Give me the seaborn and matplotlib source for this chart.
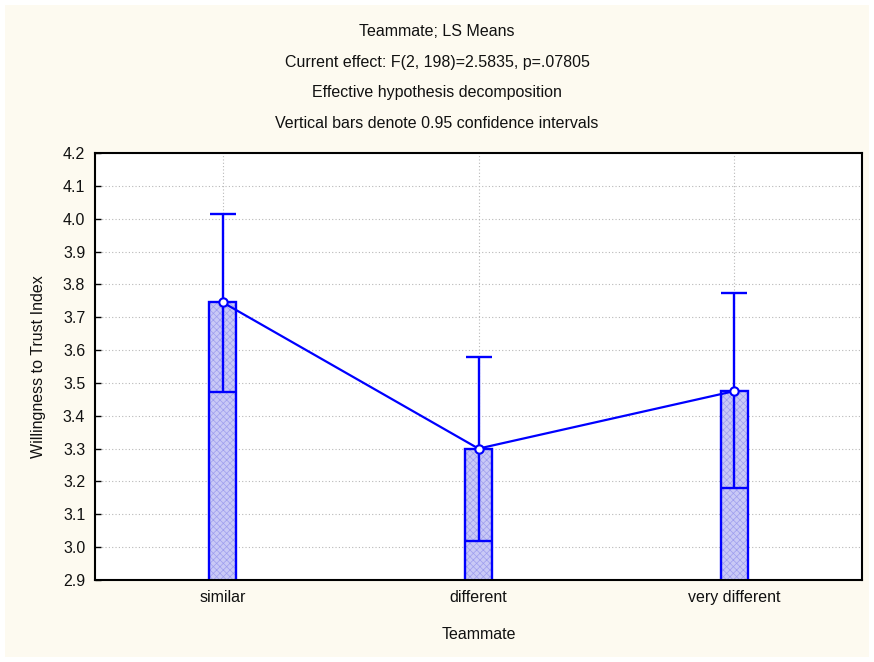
import numpy as np
import matplotlib
matplotlib.use("Agg")
from matplotlib import pyplot as plt
from matplotlib.patches import Rectangle
from matplotlib.colors import to_rgba
import seaborn as sns
import pandas as pd

# LS means and 0.95 confidence limits
categories = ["similar", "different", "very different"]
means = [3.745, 3.300, 3.475]
upper_ci = [4.015, 3.578, 3.775]
lower_ci = [3.473, 3.020, 3.180]

title_lines = ["Teammate; LS Means",
               "Current effect: F(2, 198)=2.5835, p=.07805",
               "Effective hypothesis decomposition",
               "Vertical bars denote 0.95 confidence intervals"]

sns.set_style("white")
plt.rcParams['font.family'] = ['Liberation Sans', 'DejaVu Sans']
plt.rcParams['hatch.linewidth'] = 0.5

BLUE = '#0000FF'
CREAM = '#FDFAF0'
FS = 11.5

fig = plt.figure(figsize=(8.74, 6.62), dpi=100)
fig.patch.set_facecolor('white')
fig.patches.append(Rectangle((5 / 874, 5 / 662), 864 / 874, 652 / 662,
                             transform=fig.transFigure, facecolor=CREAM,
                             edgecolor='none', zorder=-10))

ax = fig.add_axes([95 / 874, 1 - 580 / 662, 767 / 874, 427 / 662])
ax.set_facecolor('white')

df = pd.DataFrame({"Teammate": categories, "mean": means})
sns.barplot(data=df, x="Teammate", y="mean", ax=ax, width=0.105,
            color='#C9C9F6', edgecolor=BLUE, linewidth=1.7,
            saturation=1, zorder=2)
for p in ax.patches:
    p.set_edgecolor(BLUE)
    p.set_hatch('xxxxx')
    p._hatch_color = to_rgba('#9E9EEE')

x = np.arange(len(categories))
m = np.array(means)
yerr = [m - np.array(lower_ci), np.array(upper_ci) - m]
ax.errorbar(x, m, yerr=yerr, fmt='none', ecolor=BLUE, elinewidth=1.7,
            capsize=9.7, capthick=1.7, zorder=3)
ax.plot(x, m, color=BLUE, lw=1.6, marker='o', markersize=6,
        markerfacecolor='white', markeredgecolor=BLUE, markeredgewidth=1.5,
        zorder=4)

ax.set_xlim(-0.5, 2.5)
ax.set_ylim(2.9, 4.2)
ticks = np.round(np.arange(2.9, 4.21, 0.1), 1)
ax.set_yticks(ticks)
ax.set_yticklabels([f"{v:.1f}" for v in ticks])
ax.grid(True, color='#B8B8B8', linestyle=(0, (1, 2)), linewidth=0.8)
ax.set_axisbelow(True)
for s in ax.spines.values():
    s.set_color('black')
    s.set_linewidth(1.5)
ax.tick_params(direction='in', length=4, width=1, colors='black',
               labelsize=FS, left=True, bottom=True, pad=7)
for lab in ax.get_xticklabels() + ax.get_yticklabels():
    lab.set_color('#111111')

ax.set_xlabel("Teammate", fontsize=FS, labelpad=16, color='#111111')
ax.set_ylabel("Willingness to Trust Index", fontsize=FS, labelpad=12,
              color='#111111')

for i, line in enumerate(title_lines):
    fig.text(0.5, 1 - (31 + 31 * i) / 662, line, ha='center', va='center',
             fontsize=FS, color='#111111')

fig.savefig("out.png", dpi=100, facecolor=fig.get_facecolor())
